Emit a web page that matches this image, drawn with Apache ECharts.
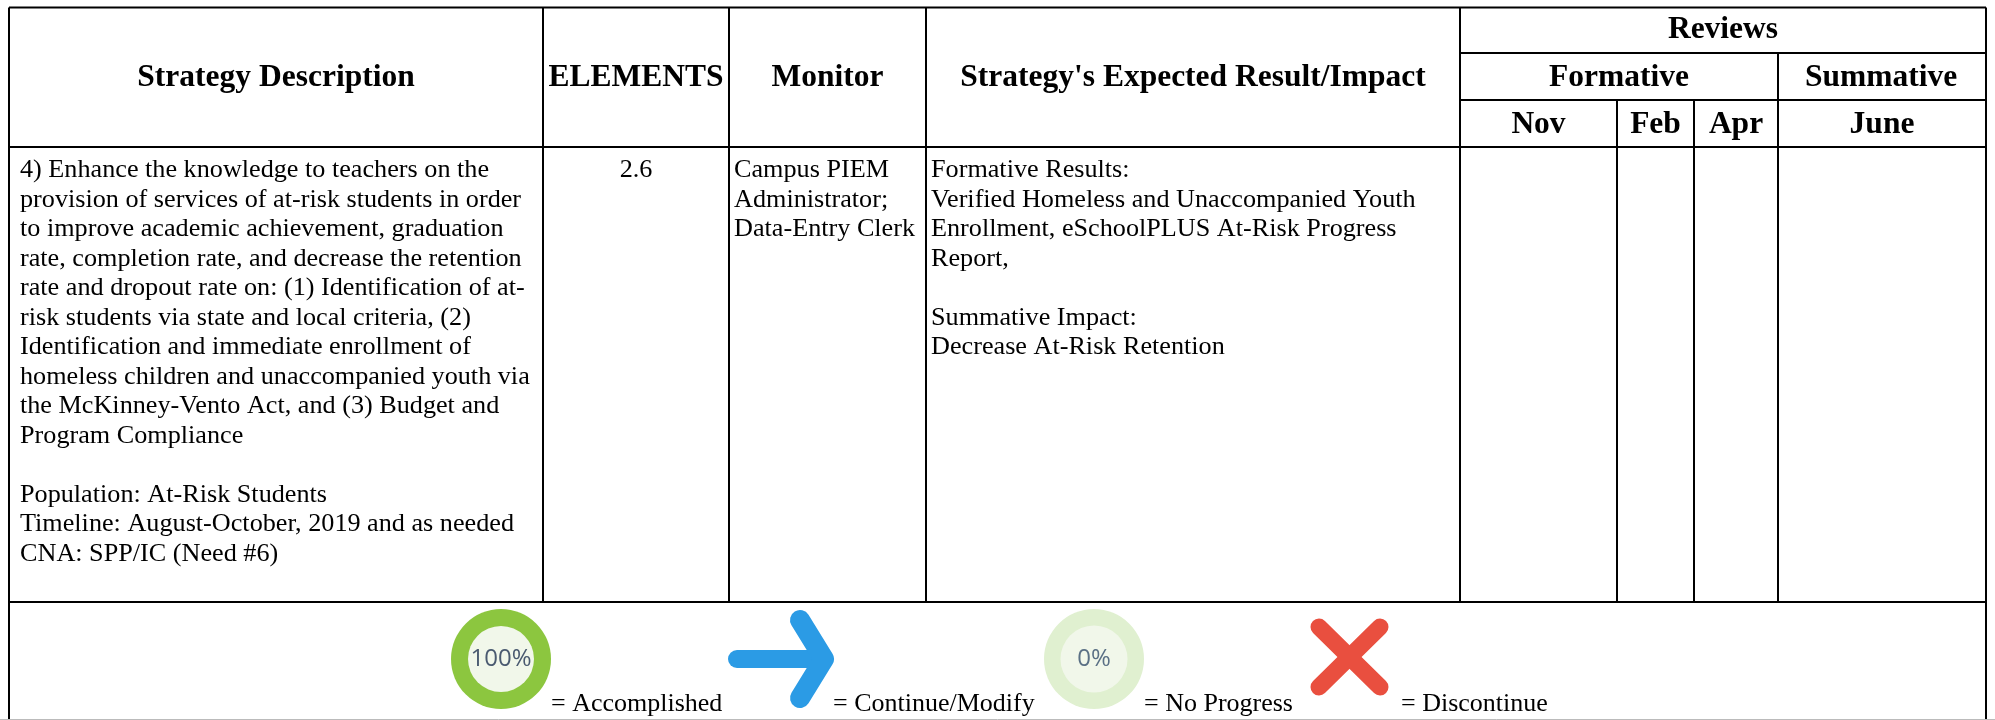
<!DOCTYPE html>
<html>
<head>
<meta charset="utf-8">
<style>html,body{margin:0;padding:0;background:#fff}#main{width:1995px;height:720px}</style>
<script src="https://cdn.jsdelivr.net/npm/echarts@6/dist/echarts.min.js"></script>
</head>
<body>
<div id="main"></div>
<script>
// table text
const headers = ['Strategy Description', 'ELEMENTS', 'Monitor', "Strategy's Expected Result/Impact"]
const reviewsTitle = 'Reviews'
const reviewGroups = ['Formative', 'Summative']
const months = ['Nov', 'Feb', 'Apr', 'June']
const descriptionLines = [
  '4) Enhance the knowledge to teachers on the',
  'provision of services of at-risk students in order',
  'to improve academic achievement, graduation',
  'rate, completion rate, and decrease the retention',
  'rate and dropout rate on: (1) Identification of at-',
  'risk students via state and local criteria, (2)',
  'Identification and immediate enrollment of',
  'homeless children and unaccompanied youth via',
  'the McKinney-Vento Act, and (3) Budget and',
  'Program Compliance',
  '',
  'Population: At-Risk Students',
  'Timeline: August-October, 2019 and as needed',
  'CNA: SPP/IC (Need #6)'
]
const elementValue = '2.6'
const monitorLines = ['Campus PIEM', 'Administrator;', 'Data-Entry Clerk']
const resultLines = [
  'Formative Results:',
  'Verified Homeless and Unaccompanied Youth',
  'Enrollment, eSchoolPLUS At-Risk Progress',
  'Report,',
  '',
  'Summative Impact:',
  'Decrease At-Risk Retention'
]
const legendLabels = ['= Accomplished', '= Continue/Modify', '= No Progress', '= Discontinue']
const ringLabels = ['100%', '0%']

// layout
const colX = [9, 543, 729, 926, 1460, 1617, 1694, 1778, 1986]
const rowY = [7.5, 53, 100, 147, 602]
const serif = '"Liberation Serif", "Times New Roman", serif'
const bodySize = 26.2
const legendSize = 26
const headSize = 31.5
const firstLine = 170.5
const lineGap = 29.5

function vline(x, y1, y2) {
  return { type: 'line', shape: { x1: x, y1: y1, x2: x, y2: y2 }, style: { stroke: '#000', lineWidth: 2 } }
}
function hline(x1, x2, y) {
  return { type: 'line', shape: { x1: x1, y1: y, x2: x2, y2: y }, style: { stroke: '#000', lineWidth: 2 } }
}
function label(text, x, y, size, weight, align) {
  return {
    type: 'text', x: x, y: y,
    style: { text: text, fill: '#000', font: weight + ' ' + size + 'px ' + serif, textAlign: align, textVerticalAlign: 'middle' }
  }
}
function textBlock(lines, x, align) {
  return lines.map((l, i) => label(l, x, firstLine + i * lineGap, bodySize, 'normal', align))
}
function ring(cx, cy, r, r0, outer, inner, text, color, size) {
  return [
    { type: 'circle', shape: { cx: cx, cy: cy, r: r }, style: { fill: outer } },
    { type: 'circle', shape: { cx: cx, cy: cy, r: r0 }, style: { fill: inner } },
    { type: 'text', x: cx, y: cy, style: { text: text, fill: color, font: size + 'px "Open Sans", sans-serif', textAlign: 'center', textVerticalAlign: 'middle' } }
  ]
}
function stroke(points, color, width) {
  return { type: 'polyline', shape: { points: points }, style: { stroke: color, lineWidth: width, lineCap: 'round', lineJoin: 'round', fill: null } }
}

const elements = []
// grid lines
elements.push(hline(colX[0], colX[8], rowY[0]))
elements.push(hline(colX[4], colX[8], rowY[1]))
elements.push(hline(colX[4], colX[8], rowY[2]))
elements.push(hline(colX[0], colX[8], rowY[3]))
elements.push(hline(colX[0], colX[8], rowY[4]))
elements.push(vline(colX[0], rowY[0], 720))
elements.push(vline(colX[8], rowY[0], 720))
;[1, 2, 3, 4].forEach(i => elements.push(vline(colX[i], rowY[0], rowY[4])))
elements.push(vline(colX[5], rowY[2], rowY[4]))
elements.push(vline(colX[6], rowY[2], rowY[4]))
elements.push(vline(colX[7], rowY[1], rowY[4]))
elements.push({ type: 'line', shape: { x1: 0, y1: 719.5, x2: 1995, y2: 719.5 }, style: { stroke: '#bbb', lineWidth: 1 } })

// header
headers.forEach((h, i) => elements.push(label(h, (colX[i] + colX[i + 1]) / 2, 78, headSize, 'bold', 'center')))
elements.push(label(reviewsTitle, (colX[4] + colX[8]) / 2, 30, headSize, 'bold', 'center'))
elements.push(label(reviewGroups[0], (colX[4] + colX[7]) / 2, 78, headSize, 'bold', 'center'))
elements.push(label(reviewGroups[1], (colX[7] + colX[8]) / 2 - 1, 78, headSize, 'bold', 'center'))
months.forEach((m, i) => elements.push(label(m, (colX[4 + i] + colX[5 + i]) / 2, 125, headSize, 'bold', 'center')))

// body
elements.push(...textBlock(descriptionLines, 20, 'left'))
elements.push(label(elementValue, (colX[1] + colX[2]) / 2, firstLine, bodySize, 'normal', 'center'))
elements.push(...textBlock(monitorLines, 734, 'left'))
elements.push(...textBlock(resultLines, 931, 'left'))

// legend icons
elements.push(...ring(501, 659, 50, 33, '#8cc63f', '#f1f7ea', ringLabels[0], '#4a5a70', 24))
elements.push(stroke([[737, 659], [824, 659]], '#2b9be5', 18))
elements.push(stroke([[800, 620], [824, 659], [800, 698]], '#2b9be5', 20))
elements.push(...ring(1094, 659, 50, 33.5, '#e0f0d0', '#f1f7ea', ringLabels[1], '#5a7085', 24))
elements.push(stroke([[1319, 627], [1380, 687]], '#e94f3f', 17))
elements.push(stroke([[1380, 627], [1319, 687]], '#e94f3f', 17))

// legend labels
const legendX = [551, 833, 1144, 1401]
legendLabels.forEach((t, i) => elements.push(label(t, legendX[i], 704, legendSize, 'normal', 'left')))

const chart = echarts.init(document.getElementById('main'))
chart.setOption({ animation: false, graphic: { elements: elements } })
</script>
</body>
</html>
